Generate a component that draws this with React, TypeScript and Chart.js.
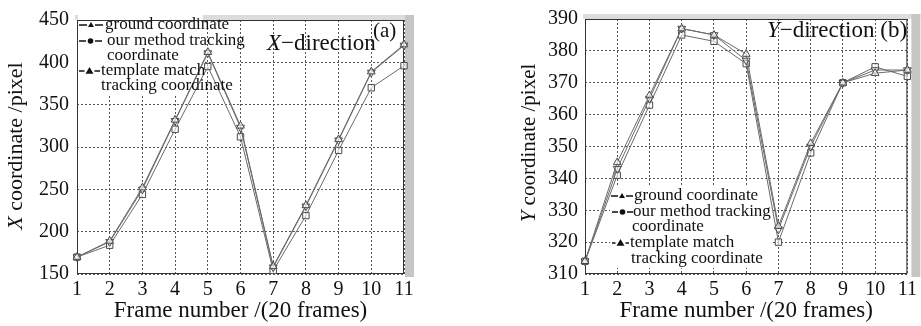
import React, { useEffect, useRef } from 'react';
import { Chart, registerables } from 'chart.js';
Chart.register(...registerables);

const frames = ['1', '2', '3', '4', '5', '6', '7', '8', '9', '10', '11'];

const xGround = [170, 189, 252, 332, 412, 325, 159, 231, 309, 389, 421];
const xOurs = [170, 188, 250, 331, 411, 323, 158, 230, 308, 388, 420];
const xTemplate = [170, 184, 244, 321, 395, 312, 154, 219, 296, 370, 396];

const yGround = [314, 345, 366, 387, 385, 379, 325, 351, 370, 373, 374];
const yOurs = [314, 343, 365, 387, 385, 377, 324, 350, 370, 374, 374];
const yTemplate = [314, 341, 363, 385, 383, 376, 320, 348, 370, 375, 372];

const seriesNames = ['ground coordinate', 'our method tracking coordinate', 'template match tracking coordinate'];
const legendLines = ['ground coordinate', 'our method tracking', 'coordinate', 'template match', 'tracking coordinate'];

const FONT = "'Liberation Serif', 'Times New Roman', serif";

type PanelCfg = {
  key: string;
  width: number;
  height: number;
  left: number;
  right: number;
  top: number;
  bottom: number;
  yMin: number;
  yMax: number;
  yStep: number;
  yTitleItalic: string;
  yTitleRest: string;
  yTitleSize: number;
  yTitleX: number;
  yTitleY: number;
  yTickPad: number;
  series: number[][];
  stripGap: number;
  legendBox: [number, number, number, number];
  legendSym: { x0: number; x1: number; y: number; shape: string; size: number }[];
  legendText: { x: number; y: number }[];
  italic: string;
  restText: string;
  annX: number;
  annY: number;
  tag?: { text: string; x: number; y: number };
};

function makePlugin(c: PanelCfg) {
  return {
    id: 'deco_' + c.key,
    beforeDraw(chart: any) {
      const { ctx, chartArea: a } = chart;
      ctx.save();
      ctx.fillStyle = '#dcdcdc';
      ctx.fillRect(a.left - 2, a.top - 5, a.right - a.left + c.stripGap + 11, 5);
      ctx.fillStyle = '#c6c6c6';
      const sw = Math.min(9, c.width - (a.right + c.stripGap));
      ctx.fillRect(a.right + c.stripGap, a.top - 5, sw, a.bottom - a.top + 8);
      ctx.restore();
    },
    beforeDatasetsDraw(chart: any) {
      const { ctx, chartArea: a } = chart;
      ctx.save();
      const [bx, by, bw, bh] = c.legendBox;
      ctx.fillStyle = '#ffffff';
      ctx.fillRect(bx, by, bw, bh);
      ctx.strokeStyle = '#333333';
      ctx.lineWidth = 1;
      ctx.setLineDash([]);
      ctx.strokeRect(a.left + 0.5, a.top + 0.5, a.right - a.left - 1, a.bottom - a.top - 1);
      ctx.restore();
    },
    afterDatasetsDraw(chart: any) {
      const { ctx } = chart;
      ctx.save();
      ctx.fillStyle = '#111111';
      ctx.strokeStyle = '#111111';
      ctx.lineWidth = 1.5;
      c.legendSym.forEach((s) => {
        const xm = (s.x0 + s.x1) / 2;
        ctx.beginPath();
        ctx.moveTo(s.x0, s.y);
        ctx.lineTo(xm - s.size - 1, s.y);
        ctx.moveTo(xm + s.size + 1, s.y);
        ctx.lineTo(s.x1, s.y);
        ctx.stroke();
        ctx.beginPath();
        if (s.shape === 'circle') {
          ctx.arc(xm, s.y, s.size * 0.8, 0, Math.PI * 2);
        } else {
          ctx.moveTo(xm, s.y - s.size);
          ctx.lineTo(xm + s.size, s.y + s.size * 0.7);
          ctx.lineTo(xm - s.size, s.y + s.size * 0.7);
          ctx.closePath();
        }
        ctx.fill();
      });
      ctx.font = `17px ${FONT}`;
      ctx.textBaseline = 'middle';
      ctx.textAlign = 'left';
      c.legendText.forEach((t, i) => {
        ctx.fillText(legendLines[i], t.x, t.y);
      });
      ctx.font = `italic 23px ${FONT}`;
      ctx.fillText(c.italic, c.annX, c.annY);
      const w = ctx.measureText(c.italic).width;
      ctx.font = `23px ${FONT}`;
      ctx.fillText(c.restText, c.annX + w, c.annY);
      if (c.tag) {
        ctx.font = `21px ${FONT}`;
        ctx.fillText(c.tag.text, c.tag.x, c.tag.y);
      }
      // y axis title (italic variable + rest)
      ctx.translate(c.yTitleX, c.yTitleY);
      ctx.rotate(-Math.PI / 2);
      ctx.font = `italic ${c.yTitleSize}px ${FONT}`;
      const wi = ctx.measureText(c.yTitleItalic).width;
      ctx.font = `${c.yTitleSize}px ${FONT}`;
      const wr = ctx.measureText(c.yTitleRest).width;
      const start = -(wi + wr) / 2;
      ctx.font = `italic ${c.yTitleSize}px ${FONT}`;
      ctx.fillText(c.yTitleItalic, start, 0);
      ctx.font = `${c.yTitleSize}px ${FONT}`;
      ctx.fillText(c.yTitleRest, start + wi, 0);
      ctx.restore();
    },
  };
}

function Panel({ c }: { c: PanelCfg }) {
  const ref = useRef<HTMLCanvasElement | null>(null);
  useEffect(() => {
    if (!ref.current) return;
    const shapes = [
      { pointStyle: 'triangle', rot: 0 },
      { pointStyle: 'triangle', rot: 180 },
      { pointStyle: 'rect', rot: 0 },
    ];
    const chart = new Chart(ref.current, {
      type: 'line',
      data: {
        labels: frames,
        datasets: c.series.map((d, i) => ({
          label: seriesNames[i],
          data: d,
          borderColor: '#6a6a6a',
          borderWidth: 1,
          pointStyle: shapes[i].pointStyle as any,
          rotation: shapes[i].rot,
          pointRadius: 4.5,
          pointBorderWidth: 1,
          pointBorderColor: '#4a4a4a',
          pointBackgroundColor: 'rgba(255,255,255,0.6)',
          tension: 0,
        })),
      },
      options: {
        animation: false,
        responsive: false,
        maintainAspectRatio: false,
        layout: { padding: { left: 0, top: c.top, right: c.width - c.right, bottom: 0 } },
        plugins: { legend: { display: false }, tooltip: { enabled: false } },
        scales: {
          x: {
            type: 'category',
            offset: false,
            grid: { color: '#555555', lineWidth: 1, drawTicks: false },
            border: { display: false, dash: [2, 2] },
            ticks: { color: '#111111', font: { family: FONT, size: 20 }, padding: 4, maxRotation: 0, autoSkip: false },
            title: { display: true, text: 'Frame number /(20 frames)', color: '#111111', font: { family: FONT, size: 23 }, padding: { top: 0, bottom: 1 } },
            afterFit: (s: any) => { s.height = c.height - c.bottom; },
          },
          y: {
            type: 'linear',
            min: c.yMin,
            max: c.yMax,
            grid: { color: '#555555', lineWidth: 1, drawTicks: false },
            border: { display: false, dash: [2, 2] },
            ticks: { stepSize: c.yStep, color: '#111111', font: { family: FONT, size: 20 }, padding: c.yTickPad },
            title: { display: false },
            afterFit: (s: any) => { s.width = c.left; },
          },
        },
      },
      plugins: [makePlugin(c)],
    });
    return () => chart.destroy();
  }, []);
  return <canvas ref={ref} width={c.width} height={c.height} style={{ display: 'block', width: c.width, height: c.height }} />;
}

const leftCfg: PanelCfg = {
  key: 'a',
  width: 460,
  height: 326,
  left: 77,
  right: 404,
  top: 14,
  bottom: 274,
  yMin: 150,
  yMax: 450,
  yStep: 50,
  yTitleItalic: 'X',
  yTitleRest: ' coordinate /pixel',
  yTitleSize: 22,
  yTitleX: 16,
  yTitleY: 146,
  yTickPad: 8,
  series: [xGround, xOurs, xTemplate],
  stripGap: 1,
  legendBox: [78, 15, 125, 80],
  legendSym: [
    { x0: 79, x1: 103, y: 25, shape: 'triangle', size: 3 },
    { x0: 79, x1: 102, y: 41, shape: 'circle', size: 3.5 },
    { x0: 79, x1: 100, y: 71, shape: 'triangle', size: 4 },
  ],
  legendText: [
    { x: 105, y: 25 },
    { x: 107, y: 41 },
    { x: 107, y: 56 },
    { x: 101, y: 71 },
    { x: 101, y: 86 },
  ],
  italic: 'X',
  restText: '\u2212direction',
  annX: 267,
  annY: 44,
  tag: { text: '(a)', x: 373, y: 31 },
};

const rightCfg: PanelCfg = {
  key: 'b',
  width: 461,
  height: 326,
  left: 125,
  right: 448,
  top: 13,
  bottom: 274,
  yMin: 310,
  yMax: 390,
  yStep: 10,
  yTitleItalic: 'Y',
  yTitleRest: ' coordinate /pixel',
  yTitleSize: 21,
  yTitleX: 69,
  yTitleY: 143,
  yTickPad: 7,
  series: [yGround, yOurs, yTemplate],
  stripGap: 4,
  legendBox: [150, 185, 162, 83],
  legendSym: [
    { x0: 151, x1: 173, y: 196, shape: 'triangle', size: 3 },
    { x0: 152, x1: 173, y: 212, shape: 'circle', size: 3.5 },
    { x0: 152, x1: 169, y: 243, shape: 'triangle', size: 4 },
  ],
  legendText: [
    { x: 174, y: 196 },
    { x: 173, y: 212 },
    { x: 172, y: 227 },
    { x: 170, y: 243 },
    { x: 171, y: 259 },
  ],
  italic: 'Y',
  restText: '\u2212direction (b)',
  annX: 307,
  annY: 31,
};

export default function App() {
  return (
    <div style={{ position: 'fixed', left: 0, top: 0, width: 921, height: 326, background: '#ffffff', overflow: 'hidden' }}>
      <div style={{ position: 'absolute', left: 0, top: 0 }}>
        <Panel c={leftCfg} />
      </div>
      <div style={{ position: 'absolute', left: 460, top: 0 }}>
        <Panel c={rightCfg} />
      </div>
    </div>
  );
}
